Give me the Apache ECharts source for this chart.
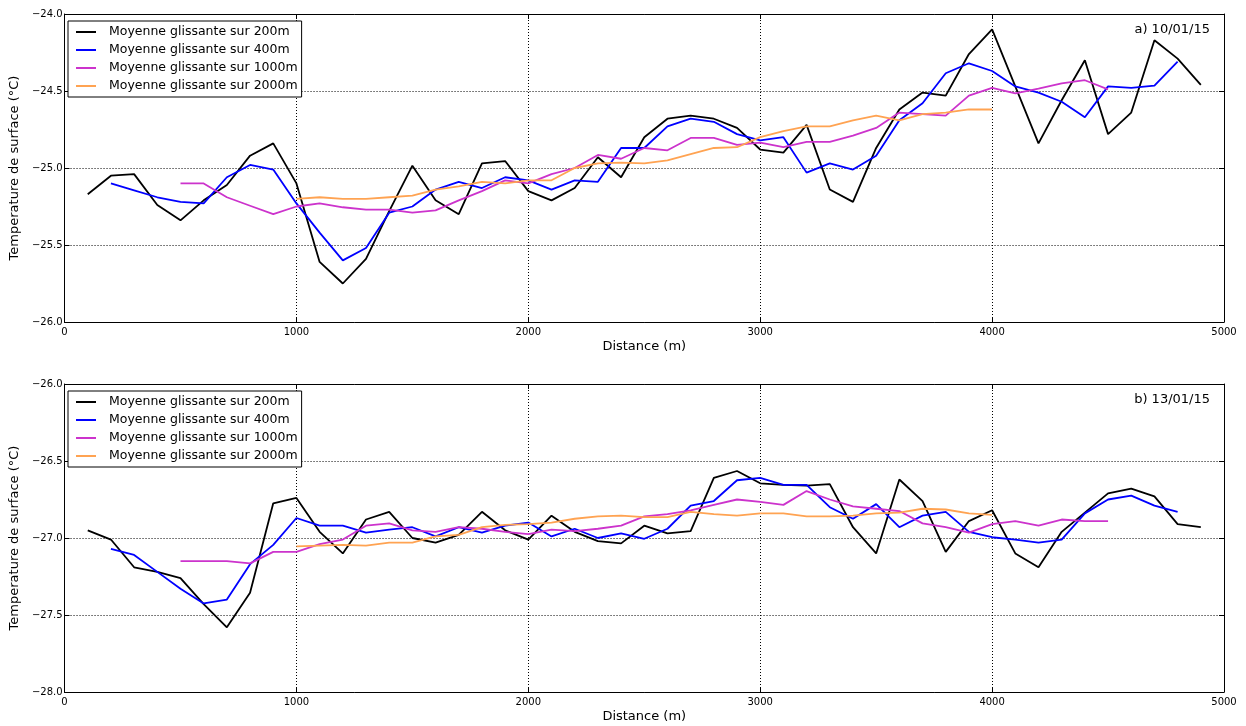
<!DOCTYPE html>
<html>
<head>
<meta charset="utf-8">
<title>Moyennes glissantes</title>
<script src="https://cdn.jsdelivr.net/npm/echarts@6/dist/echarts.min.js"></script>
<style>
  html, body { margin: 0; padding: 0; background: #fff; }
  #main { width: 1246px; height: 726px; }
</style>
</head>
<body>
<div id="main"></div>
<script>
// distances (m), one point every 100 m
var distances = [100, 200, 300, 400, 500, 600, 700, 800, 900, 1000,
  1100, 1200, 1300, 1400, 1500, 1600, 1700, 1800, 1900, 2000,
  2100, 2200, 2300, 2400, 2500, 2600, 2700, 2800, 2900, 3000,
  3100, 3200, 3300, 3400, 3500, 3600, 3700, 3800, 3900, 4000,
  4100, 4200, 4300, 4400, 4500, 4600, 4700, 4800, 4900];

var seriesNames = [
  "Moyenne glissante sur 200m",
  "Moyenne glissante sur 400m",
  "Moyenne glissante sur 1000m",
  "Moyenne glissante sur 2000m"
];
var seriesColors = ["#000000", "#0000ff", "#cc33cc", "#ffa352"];
// index in distances where each series starts (200m -> 100, 400m -> 200, 1000m -> 500, 2000m -> 1000)
var startIndex = [0, 1, 4, 9];

var yTicksTop = [-26.0, -25.5, -25.0, -24.5, -24.0];
var yTicksBottom = [-28.0, -27.5, -27.0, -26.5, -26.0];
var xTicks = [0, 1000, 2000, 3000, 4000, 5000];

// a) 10/01/15
var top200 = [-25.17, -25.05, -25.04, -25.24, -25.34, -25.21, -25.11, -24.92, -24.84, -25.10,
  -25.61, -25.75, -25.59, -25.28, -24.985, -25.21, -25.30, -24.97, -24.955, -25.15,
  -25.21, -25.13, -24.93, -25.06, -24.80, -24.68, -24.66, -24.68, -24.74, -24.88,
  -24.90, -24.72, -25.14, -25.22, -24.87, -24.62, -24.51, -24.53, -24.26, -24.10,
  -24.47, -24.84, -24.56, -24.30, -24.78, -24.64, -24.17, -24.29, -24.46];
var top400 = [-25.10, -25.145, -25.19, -25.22, -25.23, -25.06, -24.98, -25.01, -25.23,
  -25.42, -25.60, -25.52, -25.29, -25.25, -25.14, -25.09, -25.13, -25.06, -25.08,
  -25.14, -25.08, -25.09, -24.87, -24.87, -24.73, -24.68, -24.70, -24.78, -24.82,
  -24.80, -25.03, -24.97, -25.01, -24.92, -24.69, -24.58, -24.385, -24.32, -24.37,
  -24.47, -24.51, -24.57, -24.67, -24.47, -24.48, -24.465, -24.31];
var top1000 = [-25.10, -25.10, -25.19, -25.245, -25.30, -25.25,
  -25.23, -25.255, -25.27, -25.27, -25.29, -25.275, -25.21, -25.15, -25.08, -25.10,
  -25.04, -25.00, -24.915, -24.94, -24.87, -24.885, -24.805, -24.805, -24.85, -24.835,
  -24.865, -24.83, -24.83, -24.79, -24.74, -24.64, -24.65, -24.66, -24.53, -24.48,
  -24.515, -24.485, -24.45, -24.43, -24.49];
var top2000 = [-25.20,
  -25.19, -25.20, -25.20, -25.19, -25.18, -25.14, -25.12, -25.09, -25.10, -25.08,
  -25.08, -25.00, -24.97, -24.965, -24.97, -24.95, -24.91, -24.87, -24.865, -24.80,
  -24.76, -24.73, -24.73, -24.69, -24.66, -24.69, -24.65, -24.64, -24.62, -24.62];

// b) 13/01/15
var bottom200 = [-26.95, -27.01, -27.19, -27.22, -27.26, -27.43, -27.58, -27.355, -26.775, -26.74,
  -26.96, -27.10, -26.88, -26.83, -27.00, -27.03, -26.98, -26.83, -26.95, -27.01,
  -26.855, -26.96, -27.02, -27.035, -26.92, -26.97, -26.955, -26.61, -26.565, -26.645,
  -26.655, -26.66, -26.65, -26.93, -27.10, -26.62, -26.76, -27.09, -26.89, -26.82,
  -27.10, -27.19, -26.96, -26.835, -26.71, -26.68, -26.73, -26.91, -26.93];
var bottom400 = [-27.07, -27.11, -27.22, -27.33, -27.425, -27.40, -27.17, -27.045, -26.87,
  -26.92, -26.92, -26.965, -26.945, -26.93, -26.99, -26.93, -26.965, -26.92, -26.90,
  -26.99, -26.94, -27.00, -26.97, -27.005, -26.94, -26.79, -26.76, -26.625, -26.61,
  -26.655, -26.655, -26.80, -26.875, -26.78, -26.93, -26.855, -26.83, -26.96, -26.995,
  -27.01, -27.03, -27.01, -26.84, -26.75, -26.725, -26.79, -26.83];
var bottom1000 = [-27.15, -27.15, -27.15, -27.165, -27.09, -27.09,
  -27.04, -27.01, -26.92, -26.905, -26.95, -26.96, -26.93, -26.94, -26.96, -26.975,
  -26.945, -26.955, -26.94, -26.92, -26.86, -26.845, -26.82, -26.785, -26.75, -26.765,
  -26.785, -26.695, -26.75, -26.795, -26.81, -26.825, -26.905, -26.93, -26.965, -26.91,
  -26.89, -26.92, -26.88, -26.89, -26.89];
var bottom2000 = [-27.055,
  -27.05, -27.045, -27.05, -27.03, -27.03, -26.99, -26.98, -26.93, -26.915, -26.91,
  -26.90, -26.875, -26.86, -26.855, -26.865, -26.865, -26.83, -26.845, -26.855, -26.84,
  -26.84, -26.86, -26.86, -26.855, -26.84, -26.835, -26.81, -26.815, -26.84, -26.85];

var panelLabels = ["a) 10/01/15", "b) 13/01/15"];

var FONT = "DejaVu Sans";
var chartDom = document.getElementById("main");
var myChart = echarts.init(chartDom, null, { renderer: "canvas" });

var grids = [
  { left: 63, top: 14, width: 1161, height: 308 },
  { left: 63, top: 384, width: 1161, height: 308 }
];

function fmtY(v) {
  var s = Math.abs(v).toFixed(1);
  return (v < 0 ? "\u2212" : "") + s;
}

function fmtX(v) {
  return String(v);
}

function mainX(gridIndex) {
  return {
    type: "value", gridIndex: gridIndex, position: "bottom",
    min: xTicks[0], max: xTicks[xTicks.length - 1], interval: 1000,
    name: "Distance (m)", nameLocation: "middle", nameGap: 18,
    nameTextStyle: { color: "#000", fontSize: 13, fontFamily: FONT },
    axisLine: { show: true, onZero: false, lineStyle: { color: "#000", width: 1 } },
    axisTick: { show: true, inside: true, length: 5, lineStyle: { color: "#000" } },
    axisLabel: { color: "#000", fontSize: 10, fontFamily: FONT, margin: 5, formatter: fmtX },
    splitLine: { show: true, lineStyle: { color: "#000", type: [1, 2], width: 1 } }
  };
}

function topX(gridIndex) {
  return {
    type: "value", gridIndex: gridIndex, position: "top",
    min: xTicks[0], max: xTicks[xTicks.length - 1], interval: 1000,
    axisLine: { show: true, onZero: false, lineStyle: { color: "#000", width: 1 } },
    axisTick: { show: true, inside: true, length: 5, lineStyle: { color: "#000" } },
    axisLabel: { show: false },
    splitLine: { show: false }
  };
}

function mainY(gridIndex, ticks) {
  return {
    type: "value", gridIndex: gridIndex, position: "left",
    min: ticks[0], max: ticks[ticks.length - 1], interval: 0.5,
    name: "Temperature de surface (\u00b0C)", nameLocation: "middle", nameGap: 34,
    nameTextStyle: { color: "#000", fontSize: 13, fontFamily: FONT },
    axisLine: { show: true, onZero: false, lineStyle: { color: "#000", width: 1 } },
    axisTick: { show: true, inside: true, length: 5, lineStyle: { color: "#000" } },
    axisLabel: { color: "#000", fontSize: 10, fontFamily: FONT, margin: 2, formatter: fmtY },
    splitLine: { show: true, lineStyle: { color: "#000", type: [1, 2], width: 1 } }
  };
}

function rightY(gridIndex, ticks) {
  return {
    type: "value", gridIndex: gridIndex, position: "right",
    min: ticks[0], max: ticks[ticks.length - 1], interval: 0.5,
    axisLine: { show: true, onZero: false, lineStyle: { color: "#000", width: 1 } },
    axisTick: { show: true, inside: true, length: 5, lineStyle: { color: "#000" } },
    axisLabel: { show: false },
    splitLine: { show: false }
  };
}

function legendFor(top) {
  return {
    data: seriesNames,
    orient: "vertical",
    left: 68, top: top,
    padding: [4, 4, 4, 8],
    itemGap: 4,
    itemWidth: 20, itemHeight: 2,
    icon: "rect",
    selectedMode: false,
    backgroundColor: "#fff",
    borderColor: "#000", borderWidth: 1, borderRadius: 0,
    textStyle: { color: "#000", fontSize: 12.5, fontFamily: FONT, lineHeight: 14, padding: [0, 0, 0, 8] }
  };
}

function makeSeries(values, k, axisIndex) {
  var xs = distances.slice(startIndex[k]);
  return {
    name: seriesNames[k],
    type: "line",
    xAxisIndex: axisIndex, yAxisIndex: axisIndex,
    data: values.map(function (v, i) { return [xs[i], v]; }),
    showSymbol: false, symbol: "none",
    color: seriesColors[k],
    lineStyle: { color: seriesColors[k], width: 1.8 },
    animation: false,
    z: 3 + k
  };
}

var topData = [top200, top400, top1000, top2000];
var bottomData = [bottom200, bottom400, bottom1000, bottom2000];
var series = [];
topData.forEach(function (vals, k) { series.push(makeSeries(vals, k, 0)); });
bottomData.forEach(function (vals, k) { series.push(makeSeries(vals, k, 1)); });

var option = {
  backgroundColor: "#fff",
  animation: false,
  grid: grids,
  xAxis: [mainX(0), mainX(1), topX(0), topX(1)],
  yAxis: [mainY(0, yTicksTop), mainY(1, yTicksBottom), rightY(0, yTicksTop), rightY(1, yTicksBottom)],
  legend: [legendFor(21), legendFor(391)],
  graphic: [
    { type: "text", x: 1210, y: 30, style: { text: panelLabels[0], fill: "#000", font: "13px " + FONT, textAlign: "right", textVerticalAlign: "middle" } },
    { type: "text", x: 1210, y: 400, style: { text: panelLabels[1], fill: "#000", font: "13px " + FONT, textAlign: "right", textVerticalAlign: "middle" } }
  ],
  series: series
};

myChart.setOption(option);
</script>
</body>
</html>
